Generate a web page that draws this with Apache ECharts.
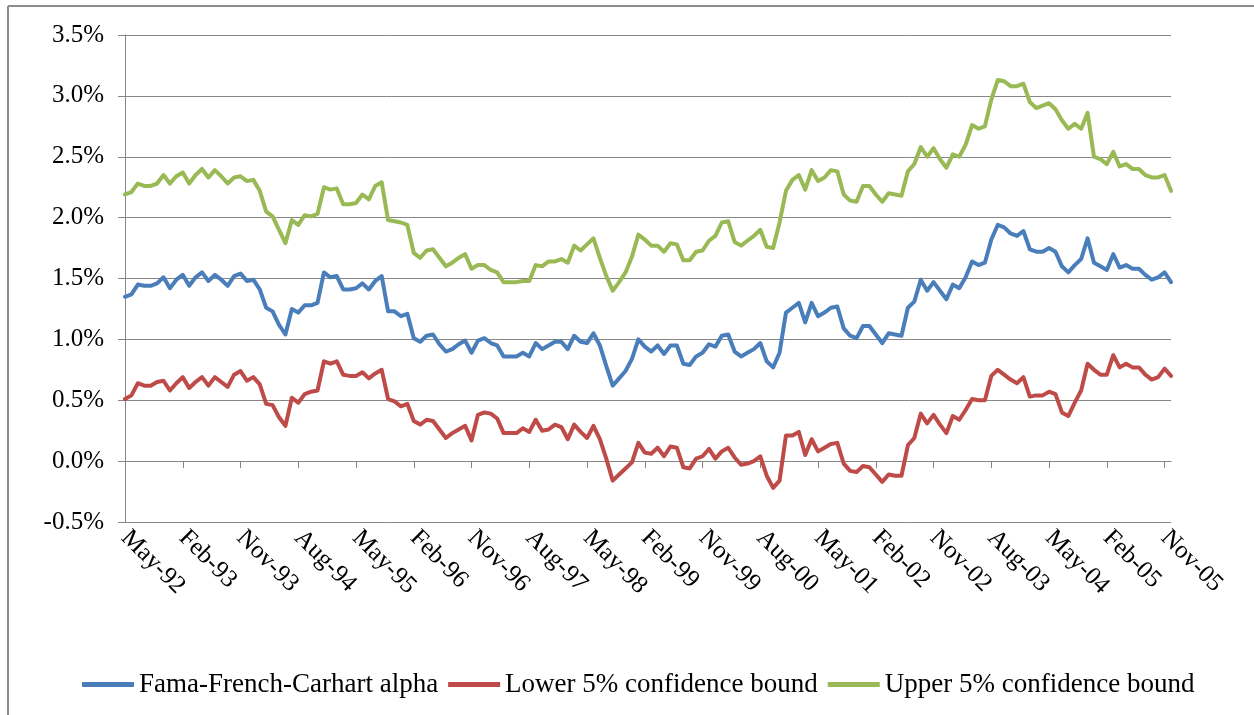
<!DOCTYPE html>
<html>
<head>
<meta charset="utf-8">
<script src="https://cdn.jsdelivr.net/npm/echarts@6/dist/echarts.min.js"></script>
<style>
html,body{margin:0;padding:0;background:#fff;}
#chart{width:1254px;height:715px;}
</style>
</head>
<body>
<div id="chart"></div>
<script>
const categories = [
'May-92','Jun-92','Jul-92','Aug-92','Sep-92','Oct-92','Nov-92','Dec-92',
'Jan-93','Feb-93','Mar-93','Apr-93','May-93','Jun-93','Jul-93','Aug-93','Sep-93','Oct-93','Nov-93','Dec-93',
'Jan-94','Feb-94','Mar-94','Apr-94','May-94','Jun-94','Jul-94','Aug-94','Sep-94','Oct-94','Nov-94','Dec-94',
'Jan-95','Feb-95','Mar-95','Apr-95','May-95','Jun-95','Jul-95','Aug-95','Sep-95','Oct-95','Nov-95','Dec-95',
'Jan-96','Feb-96','Mar-96','Apr-96','May-96','Jun-96','Jul-96','Aug-96','Sep-96','Oct-96','Nov-96','Dec-96',
'Jan-97','Feb-97','Mar-97','Apr-97','May-97','Jun-97','Jul-97','Aug-97','Sep-97','Oct-97','Nov-97','Dec-97',
'Jan-98','Feb-98','Mar-98','Apr-98','May-98','Jun-98','Jul-98','Aug-98','Sep-98','Oct-98','Nov-98','Dec-98',
'Jan-99','Feb-99','Mar-99','Apr-99','May-99','Jun-99','Jul-99','Aug-99','Sep-99','Oct-99','Nov-99','Dec-99',
'Jan-00','Feb-00','Mar-00','Apr-00','May-00','Jun-00','Jul-00','Aug-00','Sep-00','Oct-00','Nov-00','Dec-00',
'Jan-01','Feb-01','Mar-01','Apr-01','May-01','Jun-01','Jul-01','Aug-01','Sep-01','Oct-01','Nov-01','Dec-01',
'Jan-02','Feb-02','Mar-02','Apr-02','May-02','Jun-02','Jul-02','Aug-02','Sep-02','Oct-02','Nov-02','Dec-02',
'Jan-03','Feb-03','Mar-03','Apr-03','May-03','Jun-03','Jul-03','Aug-03','Sep-03','Oct-03','Nov-03','Dec-03',
'Jan-04','Feb-04','Mar-04','Apr-04','May-04','Jun-04','Jul-04','Aug-04','Sep-04','Oct-04','Nov-04','Dec-04',
'Jan-05','Feb-05','Mar-05','Apr-05','May-05','Jun-05','Jul-05','Aug-05','Sep-05','Oct-05','Nov-05','Dec-05'
];

const seriesNames = ['Fama-French-Carhart alpha', 'Lower 5% confidence bound', 'Upper 5% confidence bound'];

const alpha = [
1.35,1.37,1.45,1.44,1.44,1.46,1.51,1.42,1.49,1.53,1.44,1.51,1.55,1.48,1.53,1.49,1.44,1.52,1.54,1.48,
1.49,1.41,1.26,1.23,1.12,1.04,1.25,1.22,1.28,1.28,1.30,1.55,1.51,1.52,1.41,1.41,1.42,1.46,1.41,1.48,
1.52,1.23,1.23,1.19,1.21,1.01,0.98,1.03,1.04,0.96,0.90,0.92,0.96,0.99,0.89,0.99,1.01,0.97,0.95,0.86,
0.86,0.86,0.89,0.86,0.97,0.92,0.95,0.98,0.98,0.92,1.03,0.98,0.97,1.05,0.95,0.78,0.62,0.68,0.74,0.84,
1.00,0.94,0.90,0.95,0.88,0.95,0.95,0.80,0.79,0.86,0.89,0.96,0.94,1.03,1.04,0.90,0.86,0.89,0.92,0.97,
0.82,0.77,0.89,1.22,1.26,1.30,1.14,1.30,1.19,1.22,1.26,1.27,1.09,1.03,1.01,1.11,1.11,1.04,0.97,1.05,
1.04,1.03,1.26,1.31,1.49,1.40,1.47,1.40,1.33,1.45,1.42,1.51,1.64,1.61,1.63,1.82,1.94,1.92,1.87,1.85,
1.89,1.74,1.72,1.72,1.75,1.72,1.60,1.55,1.61,1.66,1.83,1.63,1.60,1.57,1.70,1.59,1.61,1.58,1.58,1.53,
1.49,1.51,1.55,1.47
];

const lower = [
0.51,0.54,0.64,0.62,0.62,0.65,0.66,0.58,0.64,0.69,0.60,0.65,0.69,0.62,0.69,0.65,0.61,0.71,0.74,0.66,
0.69,0.63,0.47,0.46,0.36,0.29,0.52,0.48,0.55,0.57,0.58,0.82,0.80,0.82,0.71,0.70,0.70,0.73,0.68,0.72,
0.75,0.51,0.49,0.45,0.47,0.33,0.30,0.34,0.33,0.26,0.19,0.23,0.26,0.29,0.17,0.38,0.40,0.39,0.35,0.23,
0.23,0.23,0.27,0.24,0.34,0.25,0.26,0.30,0.28,0.18,0.30,0.24,0.19,0.29,0.18,0.02,-0.16,-0.11,-0.06,-0.01,
0.15,0.07,0.06,0.11,0.04,0.12,0.11,-0.05,-0.06,0.02,0.04,0.10,0.02,0.08,0.11,0.03,-0.03,-0.02,0.00,0.04,
-0.12,-0.22,-0.16,0.21,0.21,0.24,0.05,0.18,0.08,0.11,0.14,0.15,-0.02,-0.08,-0.09,-0.04,-0.05,-0.11,-0.17,-0.11,
-0.12,-0.12,0.13,0.19,0.39,0.31,0.38,0.30,0.23,0.37,0.34,0.42,0.51,0.50,0.50,0.70,0.75,0.71,0.67,0.64,
0.69,0.53,0.54,0.54,0.57,0.55,0.40,0.37,0.48,0.58,0.80,0.75,0.71,0.71,0.87,0.77,0.80,0.77,0.77,0.71,
0.67,0.69,0.76,0.70
];

const upper = [
2.19,2.21,2.28,2.26,2.26,2.28,2.35,2.28,2.34,2.37,2.28,2.35,2.40,2.33,2.39,2.34,2.28,2.33,2.34,2.30,
2.31,2.22,2.05,2.01,1.90,1.79,1.98,1.94,2.02,2.01,2.03,2.25,2.23,2.24,2.11,2.11,2.12,2.19,2.15,2.26,
2.29,1.98,1.97,1.96,1.94,1.71,1.67,1.73,1.74,1.67,1.60,1.63,1.67,1.70,1.58,1.61,1.61,1.57,1.55,1.47,
1.47,1.47,1.48,1.48,1.61,1.60,1.64,1.64,1.66,1.63,1.77,1.73,1.78,1.83,1.67,1.52,1.40,1.47,1.55,1.68,
1.86,1.82,1.77,1.77,1.72,1.79,1.78,1.65,1.65,1.72,1.73,1.81,1.85,1.96,1.97,1.80,1.77,1.81,1.85,1.90,
1.76,1.75,1.96,2.22,2.31,2.35,2.23,2.39,2.30,2.33,2.39,2.38,2.19,2.14,2.13,2.26,2.26,2.19,2.13,2.20,
2.19,2.18,2.38,2.44,2.58,2.50,2.57,2.48,2.41,2.52,2.50,2.60,2.76,2.73,2.75,2.97,3.13,3.12,3.08,3.08,
3.10,2.95,2.90,2.92,2.94,2.89,2.80,2.73,2.77,2.73,2.86,2.50,2.48,2.44,2.54,2.42,2.44,2.40,2.40,2.35,
2.33,2.33,2.35,2.22
];

const yTicks = { min: -0.5, max: 3.5, interval: 0.5 };
const colors = ['#4A7EBB', '#BE4B48', '#98B954'];

const FONT = '"Liberation Serif", "Times New Roman", serif';
const GRAY = '#868686';

const chart = echarts.init(document.getElementById('chart'), null, { renderer: 'canvas' });

chart.setOption({
  animation: false,
  backgroundColor: '#ffffff',
  textStyle: { fontFamily: FONT, color: '#000' },
  grid: { left: 125, right: 83, top: 35, bottom: 193, containLabel: false },
  legend: {
    data: seriesNames,
    top: 666,
    left: 77,
    icon: 'rect',
    itemWidth: 52,
    itemHeight: 5,
    itemGap: 10,
    textStyle: { fontFamily: FONT, fontSize: 27, color: '#000' }
  },
  xAxis: {
    type: 'category',
    data: categories,
    boundaryGap: false,
    axisLine: { show: true, lineStyle: { color: GRAY, width: 1 } },
    axisTick: { show: true, interval: 8, length: 7, lineStyle: { color: GRAY } },
    axisLabel: { interval: 8, rotate: -45, fontFamily: FONT, fontSize: 25, color: '#000', margin: 12 },
    splitLine: { show: false }
  },
  yAxis: {
    type: 'value',
    min: yTicks.min,
    max: yTicks.max,
    interval: yTicks.interval,
    axisLine: { show: true, lineStyle: { color: GRAY, width: 1 } },
    axisTick: { show: true, length: 7, lineStyle: { color: GRAY } },
    axisLabel: {
      formatter: v => v.toFixed(1) + '%',
      fontFamily: FONT, fontSize: 25, color: '#000', margin: 21
    },
    splitLine: { show: true, lineStyle: { color: GRAY, width: 1 } }
  },
  graphic: [
    { type: 'line', shape: { x1: 8, y1: 6, x2: 8, y2: 715 }, style: { stroke: '#8c8c8c', lineWidth: 2 } },
    { type: 'line', shape: { x1: 8, y1: 6, x2: 1254, y2: 6 }, style: { stroke: '#8c8c8c', lineWidth: 2 } }
  ],
  series: [
    { name: seriesNames[0], type: 'line', data: alpha, symbol: 'none', color: colors[0], lineStyle: { width: 4, color: colors[0], cap: 'round', join: 'round' } },
    { name: seriesNames[1], type: 'line', data: lower, symbol: 'none', color: colors[1], lineStyle: { width: 4, color: colors[1], cap: 'round', join: 'round' } },
    { name: seriesNames[2], type: 'line', data: upper, symbol: 'none', color: colors[2], lineStyle: { width: 4, color: colors[2], cap: 'round', join: 'round' } }
  ]
});
</script>
</body>
</html>
